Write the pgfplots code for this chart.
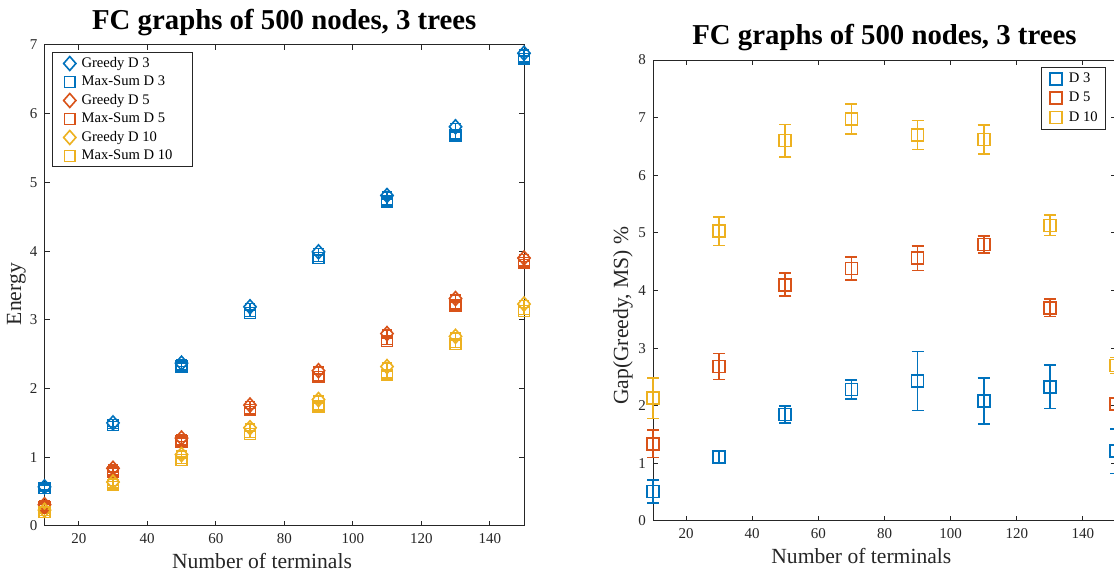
\documentclass[border=0pt]{standalone}
\usepackage{fontspec}
\setmainfont{Liberation Serif}
\usepackage{pgfplots}
\pgfplotsset{compat=1.18}
\definecolor{c1}{rgb}{0,0.447,0.741}
\definecolor{c2}{rgb}{0.85,0.325,0.098}
\definecolor{c3}{rgb}{0.929,0.694,0.125}
\definecolor{axgray}{rgb}{0.15,0.15,0.15}
\pgfplotsset{
  mlab/.style={
    scale only axis,
    anchor=south west,
    axis line style={axgray, line width=0.5pt},
    every tick/.style={axgray, line width=0.5pt},
    tick align=inside,
    major tick length=2.6pt,
    tick label style={font=\fontsize{7.5}{9}\selectfont, text=axgray},
    /pgf/number format/assume math mode=true,
    title style={font=\fontsize{14.4}{16}\selectfont\bfseries, yshift=-5pt},
    label style={font=\fontsize{10.8}{12}\selectfont, text=axgray},
    xmin=10, xmax=150,
    xtick={20,40,60,80,100,120,140},
    legend cell align=left,
    clip=false,
  },
  gr/.style={only marks, mark=diamond, mark size=3.5pt, line width=0.8pt, mark options={solid, xscale=1.17},
    error bars/.cd, y dir=both, y fixed=0.05, error bar style={line width=0.8pt},
    error mark options={rotate=90, mark size=2.6pt, line width=0.8pt}},
  ms/.style={only marks, mark=square, mark size=2.7pt, line width=0.8pt, mark options={solid},
    error bars/.cd, y dir=both, y fixed=0.05, error bar style={line width=0.8pt},
    error mark options={rotate=90, mark size=2.6pt, line width=0.8pt}},
  gp/.style={only marks, mark=square, mark size=3pt, line width=0.8pt, mark options={solid},
    error bars/.cd, y dir=both, y explicit, error bar style={line width=0.8pt},
    error mark options={rotate=90, mark size=3pt, line width=0.8pt}},
}
\begin{document}
\begin{tikzpicture}
\begin{axis}[mlab, at={(22.25pt,25.5pt)}, width=239.75pt, height=240.5pt,
  ymin=0, ymax=7, ytick={0,1,2,3,4,5,6,7},
  title={FC graphs of 500 nodes, 3 trees},
  xlabel={Number of terminals}, ylabel={Energy},
  xlabel style={at={(axis description cs:0.4536,0)}, anchor=base, yshift=-21.5pt},
  ylabel style={at={(axis description cs:-0.0585,0.482)}, anchor=center},
  legend style={at={(axis description cs:0.0156,0.9854)}, anchor=north west, draw=axgray, line width=0.5pt,
    font=\fontsize{7.3}{8.8}\selectfont, inner xsep=3pt, inner ysep=1.2pt, row sep=0.8pt, column sep=1.75pt,
    nodes={inner sep=1pt, text=black}},
  legend image code/.code={\path (0pt,0pt) (8pt,0pt); \draw[#1] plot coordinates {(5.25pt,0pt)};},
]
\addplot[c1, gr] coordinates {(10,0.57)(30,1.5)(50,2.37)(70,3.19)(90,3.99)(110,4.81)(130,5.81)(150,6.88)};
\addlegendentry{Greedy D 3}
\addplot[c1, ms] coordinates {(10,0.55)(30,1.47)(50,2.32)(70,3.1)(90,3.9)(110,4.72)(130,5.68)(150,6.8)};
\addlegendentry{Max-Sum D 3}
\addplot[c2, gr] coordinates {(10,0.31)(30,0.84)(50,1.28)(70,1.76)(90,2.26)(110,2.8)(130,3.31)(150,3.9)};
\addlegendentry{Greedy D 5}
\addplot[c2, ms] coordinates {(10,0.27)(30,0.79)(50,1.23)(70,1.69)(90,2.17)(110,2.69)(130,3.21)(150,3.83)};
\addlegendentry{Max-Sum D 5}
\addplot[c3, gr] coordinates {(10,0.23)(30,0.64)(50,1.04)(70,1.43)(90,1.84)(110,2.32)(130,2.76)(150,3.23)};
\addlegendentry{Greedy D 10}
\addplot[c3, ms] coordinates {(10,0.2)(30,0.6)(50,0.96)(70,1.34)(90,1.74)(110,2.2)(130,2.65)(150,3.13)};
\addlegendentry{Max-Sum D 10\hspace*{6pt}}
\end{axis}

\begin{axis}[mlab, at={(326.5pt,28pt)}, width=231.5pt, height=230.5pt,
  ymin=0, ymax=8, ytick={0,1,2,3,4,5,6,7,8},
  title={FC graphs of 500 nodes, 3 trees},
  xlabel={Number of terminals}, ylabel={Gap(Greedy, MS) \%},
  xlabel style={at={(axis description cs:0.45,0)}, anchor=base, yshift=-21.5pt},
  ylabel style={at={(axis description cs:-0.065,0.445)}, anchor=center},
  legend style={at={(axis description cs:0.979,0.9848)}, anchor=north east, draw=axgray, line width=0.5pt,
    font=\fontsize{7.3}{8.8}\selectfont, inner xsep=3pt, inner ysep=1.5pt, row sep=1.4pt, column sep=1.5pt,
    nodes={inner sep=1pt, text=black}},
  legend image code/.code={\path (0pt,0pt) (7.5pt,0pt); \draw[#1] plot coordinates {(4pt,0pt)};},
]
\addplot[c1, gp] coordinates {(10,0.51) +- (0,0.2) (30,1.11) +- (0,0.115) (50,1.85) +- (0,0.15) (70,2.28) +- (0,0.165)
  (90,2.43) +- (0,0.51) (110,2.08) +- (0,0.4) (130,2.33) +- (0,0.375) (150,1.21) +- (0,0.385)};
\addlegendentry{D 3}
\addplot[c2, gp] coordinates {(10,1.34) +- (0,0.24) (30,2.68) +- (0,0.225) (50,4.1) +- (0,0.2) (70,4.38) +- (0,0.2)
  (90,4.56) +- (0,0.21) (110,4.8) +- (0,0.15) (130,3.7) +- (0,0.15) (150,2.03) +- (0,0.115)};
\addlegendentry{D 5}
\addplot[c3, gp] coordinates {(10,2.13) +- (0,0.35) (30,5.03) +- (0,0.25) (50,6.6) +- (0,0.28) (70,6.98) +- (0,0.26)
  (90,6.7) +- (0,0.25) (110,6.62) +- (0,0.25) (130,5.13) +- (0,0.175) (150,2.7) +- (0,0.14)};
\addlegendentry{D 10}
\end{axis}
\pgfresetboundingbox
\useasboundingbox (0pt,0pt) rectangle (557pt,288.5pt);
\end{tikzpicture}
\end{document}
